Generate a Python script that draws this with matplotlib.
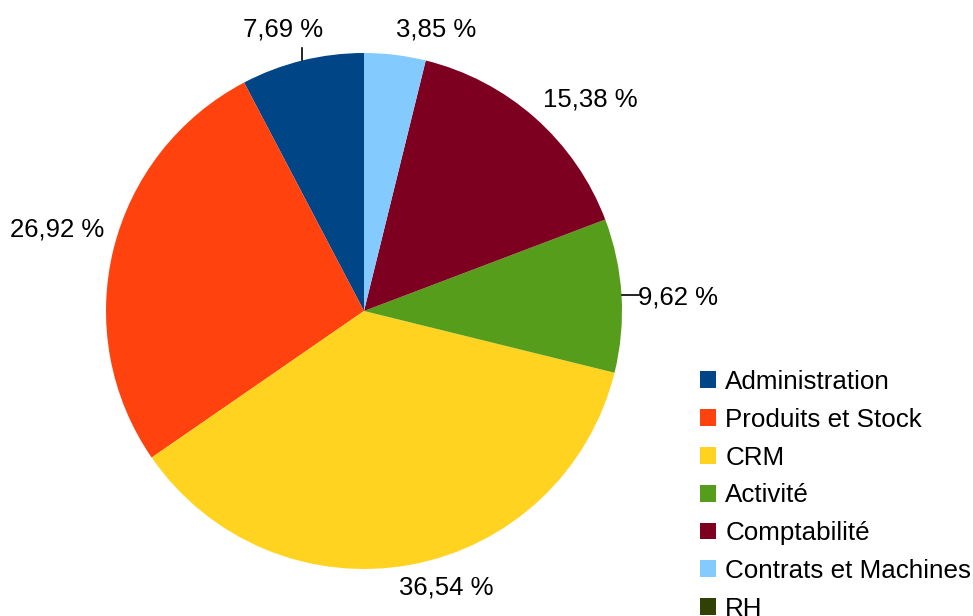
import numpy as np
import matplotlib.pyplot as plt
from matplotlib.patches import Patch

plt.rcParams['font.family'] = ['Liberation Sans', 'DejaVu Sans']

# data
categories = ['Administration', 'Produits et Stock', 'CRM', 'Activité',
              'Comptabilité', 'Contrats et Machines', 'RH']
counts = [4, 14, 19, 5, 8, 2, 0]
colors = ['#004586', '#ff420e', '#ffd320', '#579d1c', '#7e0021', '#83caff', '#314004']

W, H = 973, 616
fig = plt.figure(figsize=(W / 100, H / 100), dpi=100)
ax = fig.add_axes([0, 0, 1, 1])
ax.set_xlim(0, W)
ax.set_ylim(0, H)
ax.set_aspect('equal')
ax.axis('off')

cx, cy, r = 364, H - 311, 258

vals = [v for v in counts if v > 0]
cols = [c for v, c in zip(counts, colors) if v > 0]
wedges, _ = ax.pie(vals, colors=cols, startangle=90, counterclock=True,
                   center=(cx, cy), radius=r, wedgeprops=dict(linewidth=0))
ax.set_xlim(0, W)
ax.set_ylim(0, H)

total = sum(counts)
pct = [100.0 * v / total for v in vals]

# label positions (pixel, top-down) and whether a leader line is drawn
label_pos = [(283, 29), (57, 230), (446, 588), (678, 298), (590, 100), (436, 29)]
leader = [True, False, False, True, False, False]

for w, p, (tx, ty), ld in zip(wedges, pct, label_pos, leader):
    txt = ('%.2f %%' % p).replace('.', ',')
    ax.text(tx, H - ty, txt, ha='center', va='center', fontsize=18.5, color='#000000')
    if ld:
        th = np.deg2rad((w.theta1 + w.theta2) / 2)
        x0, y0 = cx + r * np.cos(th), cy + r * np.sin(th)
        if abs(np.cos(th)) > 0.7:
            ax.plot([x0, x0 + 17], [y0, y0], color='black', lw=1.2)
        else:
            ax.plot([x0, x0], [y0, y0 + 12], color='black', lw=1.2)

handles = [Patch(facecolor=c, edgecolor='none') for c in colors]
fig.legend(handles, categories, loc='upper left',
           bbox_to_anchor=(700 / W, 1 - 370 / H), frameon=False,
           fontsize=18.7, handlelength=0.62, handleheight=0.62,
           handletextpad=0.35, labelspacing=0.53, borderpad=0, borderaxespad=0)

fig.savefig('out.png', dpi=100)
